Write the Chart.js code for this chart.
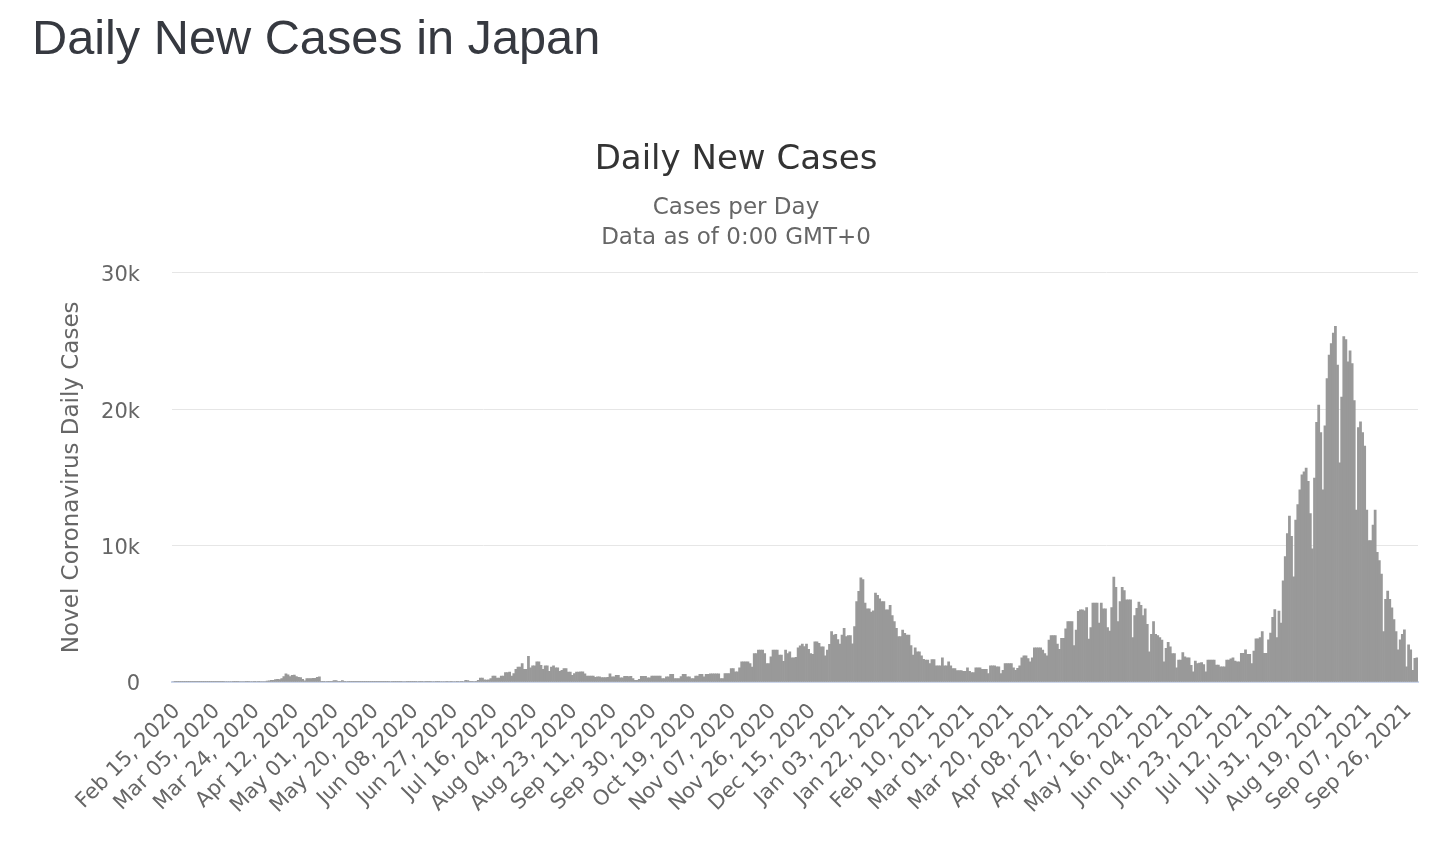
<!DOCTYPE html>
<html>
<head>
<meta charset="utf-8">
<title>Daily New Cases in Japan</title>
<script src="https://cdn.jsdelivr.net/npm/chart.js@4.4.1/dist/chart.umd.min.js"></script>
<style>
  html, body { margin: 0; padding: 0; background: #ffffff; }
  body { width: 1448px; height: 854px; position: relative; overflow: hidden; }
  h1 {
    position: absolute; left: 32px; top: 13px; margin: 0;
    font: 400 48.7px/1 "Liberation Sans", Arial, sans-serif;
    color: #363940; white-space: nowrap;
  }
  #casesChart { position: absolute; left: 0; top: 0; }
</style>
</head>
<body>
<h1>Daily New Cases in Japan</h1>
<canvas id="casesChart" width="1448" height="854"></canvas>
<script>
// daily new cases (one value per day)
const cases2020 = [
  // Feb 15 - Feb 29
  0, 1, 5, 7, 11, 6, 10, 15, 12, 20, 12, 11, 14, 21, 11,
  // Mar
  14, 11, 20, 21, 32, 28, 40, 25, 16, 33, 34, 39, 39, 37, 40, 15, 30, 35, 36, 38, 30, 40, 39, 35, 30, 38, 40, 36, 35, 38, 70,
  // Apr
  80, 120, 120, 180, 200, 180, 250, 400, 590, 520, 400, 480, 500, 400, 350, 330, 200, 80, 250, 250, 250, 260, 260, 350, 370, 40, 30, 35, 25, 30,
  // May
  30, 110, 110, 40, 40, 100, 40, 35, 30, 28, 25, 30, 20, 25, 22, 18, 15, 20, 25, 18, 14, 12, 15, 20, 21, 26, 14, 28, 36, 30, 25,
  // Jun
  32, 28, 40, 38, 35, 26, 30, 28, 25, 40, 38, 32, 30, 36, 28, 22, 40, 38, 35, 26, 30, 36, 38, 34, 30, 36, 40, 38, 35, 32,
  // Jul
  38, 40, 36, 120, 100, 30, 30, 35, 40, 120, 290, 280, 150, 140, 150, 250, 440, 440, 290, 290, 440, 440, 690, 690, 735, 440, 610, 930, 1100, 1100, 1350,
  // Aug
  930, 930, 1890, 1030, 1180, 1180, 1470, 1470, 1230, 930, 1180, 1180, 785, 1100, 1180, 1030, 1030, 785, 860, 980, 980, 735, 735, 490, 610, 735, 735, 740, 740, 600, 440,
  // Sep
  440, 440, 440, 350, 370, 370, 320, 330, 320, 340, 590, 370, 370, 490, 490, 300, 300, 420, 420, 400, 420, 250, 120, 130, 200, 420, 420, 420, 300, 300,
  // Oct
  440, 440, 440, 440, 440, 250, 250, 370, 370, 570, 570, 250, 250, 250, 400, 570, 570, 370, 370, 250, 250, 440, 440, 570, 570, 370, 570, 570, 590, 590, 590,
  // Nov
  590, 590, 250, 250, 615, 615, 615, 980, 980, 740, 740, 1030, 1480, 1480, 1480, 1480, 1350, 1100, 2090, 2090, 2340, 2340, 2340, 2090, 1350, 1350, 1850, 2340, 2340, 2340,
  // Dec
  1970, 1970, 1520, 2340, 2090, 2210, 1770, 1770, 1800, 2510, 2650, 2780, 2600, 2780, 2400, 2090, 2020, 2950, 2950, 2830, 2580, 2580, 1920, 2340, 2760, 3690, 3440, 3490, 3100, 2780, 3440
];

const cases2021 = [
  // Jan
  3940, 3320, 3400, 3400, 2800, 4060, 5900, 6640, 7630, 7500, 5780, 5360, 5360, 5120, 5220, 6520, 6350, 6100, 5900, 5900, 5290, 5290, 5610, 4870, 4430, 3940, 3320, 3320, 3810, 3570, 3440,
  // Feb
  3440, 2660, 1970, 2510, 2210, 2210, 1920, 1670, 1600, 1600, 1350, 1650, 1650, 1180, 1180, 1180, 1770, 1180, 1180, 1480, 1180, 980, 980, 840, 840, 840, 790, 790,
  // Mar
  1030, 790, 690, 690, 1030, 1030, 1030, 930, 930, 930, 615, 1180, 1180, 1180, 1110, 1110, 615, 860, 1350, 1350, 1350, 1350, 1030, 860, 1000, 1180, 1770, 1920, 1920, 1720, 1480,
  // Apr
  1770, 2510, 2510, 2510, 2510, 2340, 2090, 1920, 3080, 3400, 3400, 3400, 2780, 2390, 3200, 3200, 3890, 4430, 4430, 4430, 2660, 3810, 5170, 5290, 5290, 5220, 5460, 3150, 3990, 5780,
  // May
  5780, 5780, 4310, 5780, 5360, 5360, 3990, 3740, 5460, 7680, 6940, 4430, 5900, 6940, 6690, 6030, 6030, 6030, 3250, 4870, 5400, 5860, 5610, 4870, 5360, 4230, 2210, 3490, 4430, 3490, 3400,
  // Jun
  3250, 3080, 1480, 2460, 2900, 2580, 2090, 2090, 1030, 1600, 1600, 2160, 1850, 1770, 1770, 1230, 740, 1530, 1350, 1390, 1430, 1280, 740, 1600, 1600, 1600, 1600, 1240, 1240, 1110,
  // Jul
  1110, 1110, 1600, 1600, 1700, 1780, 1530, 1480, 1480, 2100, 2100, 2350, 2020, 2020, 1350, 2270, 3160, 3160, 3260, 3700, 2100, 2100, 3090, 3580, 4740, 5310, 3260, 5190, 4320, 7410, 9190,
  // Aug
  10870, 12150, 10670, 7700, 11860, 13000, 14080, 15190, 15400, 15680, 14700, 12350, 9760, 14940, 19020, 20300, 18280, 14080, 18770, 22230, 23960, 24800, 25560, 26060, 23220, 16060, 20870, 25320, 25100, 23470, 24260,
  // Sep
  23340, 20620, 12600, 18650, 19070, 18280, 17290, 12600, 10370, 10370, 11500, 12600, 9510, 8890, 7900, 3700, 6050, 6670, 6050, 5430, 4570, 3700, 2350, 3090, 3500, 3830, 1110, 2720, 2350, 860,
  // Oct 1 - Oct 2
  1730, 1780
];

// x axis shows every 19th day
const tickLabels = [
  'Feb 15, 2020', 'Mar 05, 2020', 'Mar 24, 2020', 'Apr 12, 2020', 'May 01, 2020', 'May 20, 2020',
  'Jun 08, 2020', 'Jun 27, 2020', 'Jul 16, 2020', 'Aug 04, 2020', 'Aug 23, 2020', 'Sep 11, 2020',
  'Sep 30, 2020', 'Oct 19, 2020', 'Nov 07, 2020', 'Nov 26, 2020', 'Dec 15, 2020', 'Jan 03, 2021',
  'Jan 22, 2021', 'Feb 10, 2021', 'Mar 01, 2021', 'Mar 20, 2021', 'Apr 08, 2021', 'Apr 27, 2021',
  'May 16, 2021', 'Jun 04, 2021', 'Jun 23, 2021', 'Jul 12, 2021', 'Jul 31, 2021', 'Aug 19, 2021',
  'Sep 07, 2021', 'Sep 26, 2021'
];
const tickStep = 19;
const yTicks = [0, 10000, 20000, 30000];

const dailyCases = cases2020.concat(cases2021);

// one category per day starting Feb 15, 2020
const monthNames = ['Jan', 'Feb', 'Mar', 'Apr', 'May', 'Jun', 'Jul', 'Aug', 'Sep', 'Oct', 'Nov', 'Dec'];
const categories = dailyCases.map((_, i) => {
  const d = new Date(Date.UTC(2020, 1, 15 + i));
  const day = String(d.getUTCDate()).padStart(2, '0');
  return monthNames[d.getUTCMonth()] + ' ' + day + ', ' + d.getUTCFullYear();
});

const chartFont = 'DejaVu Sans';

const chart = new Chart(document.getElementById('casesChart'), {
  type: 'bar',
  data: {
    labels: categories,
    datasets: [{
      label: 'Daily Cases',
      data: dailyCases,
      backgroundColor: '#999999',
      borderWidth: 0,
      barPercentage: 1,
      categoryPercentage: 1
    }]
  },
  options: {
    responsive: false,
    animation: false,
    devicePixelRatio: 1,
    layout: {
      padding: { left: 54, right: 30, top: 0, bottom: 0 }
    },
    plugins: {
      legend: { display: false },
      title: {
        display: true,
        text: 'Daily New Cases',
        color: '#333333',
        font: { family: chartFont, size: 34, weight: 'normal', lineHeight: 1.2 },
        padding: { top: 140, bottom: 0 }
      },
      subtitle: {
        display: true,
        text: ['Cases per Day', 'Data as of 0:00 GMT+0'],
        color: '#666666',
        font: { family: chartFont, size: 23, weight: 'normal', lineHeight: 1.3 },
        padding: { top: 12, bottom: 20 }
      }
    },
    scales: {
      x: {
        grid: { display: false },
        border: { display: true, color: '#ccd6eb', width: 2 },
        ticks: {
          autoSkip: false,
          minRotation: 45,
          maxRotation: 45,
          color: '#666666',
          padding: 9,
          labelOffset: 4,
          font: { family: chartFont, size: 21 },
          callback: (value, index) => (index % tickStep === 0 ? tickLabels[index / tickStep] : '')
        },
        afterFit: (scale) => { scale.height = 172; }
      },
      y: {
        min: yTicks[0],
        max: yTicks[yTicks.length - 1],
        afterBuildTicks: (scale) => { scale.ticks = yTicks.map(v => ({ value: v })); },
        grid: { color: '#e6e6e6', drawTicks: false },
        border: { display: false },
        ticks: {
          color: '#666666',
          padding: 32,
          labelOffset: 3,
          font: { family: chartFont, size: 21 },
          callback: (value) => (value === 0 ? '0' : value / 1000 + 'k')
        },
        title: {
          display: true,
          text: 'Novel Coronavirus Daily Cases',
          color: '#666666',
          font: { family: chartFont, size: 23 },
          padding: { top: 4, bottom: 0 }
        },
        afterFit: (scale) => { scale.width = 118; }
      }
    }
  }
});
</script>
</body>
</html>
